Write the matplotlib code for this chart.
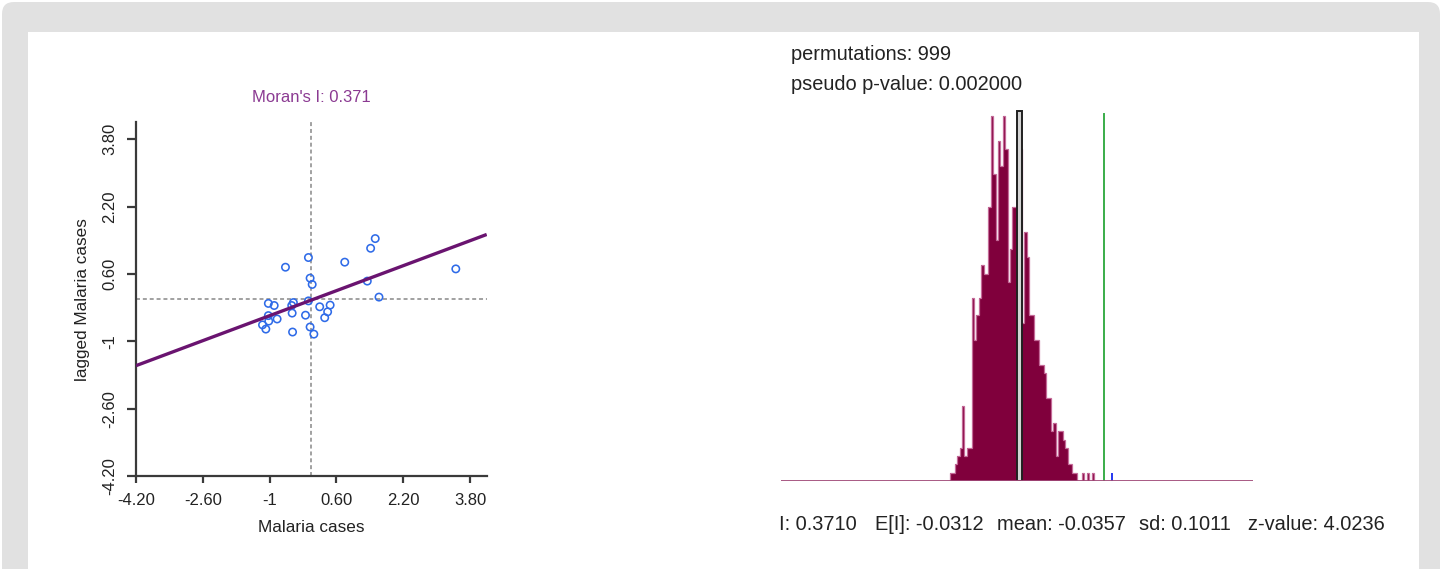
import numpy as np
import matplotlib
matplotlib.use("Agg")
import matplotlib.pyplot as plt
from matplotlib.patches import FancyBboxPatch, Rectangle
from matplotlib.transforms import IdentityTransform

plt.rcParams["font.family"] = ["Liberation Sans", "DejaVu Sans"]

# ---- Moran scatter data (standardised values) ----
malaria_cases = [-0.62, -0.07, -0.03, 0.02, 0.80, 1.42, 1.53, 1.34, 1.62, 3.46,
                 -1.03, -0.89, -0.43, -0.47, -0.46, -0.07, -0.14, 0.20, 0.45, 0.39,
                 0.32, -0.03, 0.06, -0.45, -1.03, -0.82, -1.17, -1.09, -1.02]
lagged_cases = [0.76, 0.99, 0.50, 0.35, 0.88, 1.21, 1.44, 0.43, 0.05, 0.72,
                -0.10, -0.15, -0.08, -0.15, -0.33, -0.04, -0.38, -0.18, -0.14, -0.30,
                -0.44, -0.66, -0.83, -0.78, -0.39, -0.47, -0.61, -0.71, -0.52]
morans_i = 0.371
axis_ticks = [-4.2, -2.6, -1, 0.6, 2.2, 3.8]
axis_tick_labels = ["-4.20", "-2.60", "-1", "0.60", "2.20", "3.80"]

# ---- permutation reference distribution ----
permutations = 999
pseudo_p = 0.002
observed_i = 0.3710
expected_i = -0.0312
perm_mean = -0.0357
perm_sd = 0.1011
z_value = 4.0236
bin_start = -0.3617
bin_width = 0.0114
perm_counts = [1, 1, 2, 3, 4, 9, 3, 4, 4, 22,
               17, 20, 22, 26, 25, 25, 33, 44, 37, 29,
               41, 38, 44, 40, 24, 28, 33, 33, 42, 40,
               19, 30, 27, 20, 20, 17, 17, 14, 14, 13,
               10, 10, 6, 7, 3, 6, 6, 5, 4, 2,
               2, 1, 1, 0, 0, 1, 0, 1, 0, 1]
extreme_perm = 0.408

W, H = 1442, 569
fig = plt.figure(figsize=(W / 100, H / 100), dpi=100)
fig.patch.set_facecolor("white")

# framed card background
frame = FancyBboxPatch((2, -30), 1438, 597, boxstyle="round,pad=0,rounding_size=12",
                       transform=IdentityTransform(), facecolor="#e1e1e1",
                       edgecolor="none", zorder=-2)
card = Rectangle((28, -10), 1391, H - 32 + 10, transform=IdentityTransform(),
                 facecolor="white", edgecolor="none", zorder=-1)
fig.patches.extend([frame, card])


def px_axes(x0, y0, x1, y1):
    return fig.add_axes([x0 / W, 1 - y1 / H, (x1 - x0) / W, (y1 - y0) / H])


# ---------------- Moran scatter plot ----------------
ax = px_axes(136, 122.4, 486.7, 476)
ax.patch.set_visible(False)
ax.set_xlim(-4.2, 4.2)
ax.set_ylim(-4.2, 4.2)

dash = (0, (2.2, 1.6))
ax.axvline(0, color="#9a9a9a", lw=1.3, ls=dash, zorder=1)
ax.axhline(0, color="#9a9a9a", lw=1.3, ls=dash, zorder=1)

ax.scatter(malaria_cases, lagged_cases, s=28, facecolors="none",
           edgecolors="#2f6be8", linewidths=1.15, zorder=3)

xm = np.mean(malaria_cases)
ym = np.mean(lagged_cases)
xs = np.array([-4.2, 4.2])
ax.plot(xs, ym + morans_i * (xs - xm), color="#6a1470", lw=2.4, zorder=4,
        solid_capstyle="butt")

for side in ("top", "right"):
    ax.spines[side].set_visible(False)
for side in ("left", "bottom"):
    ax.spines[side].set_color("#3a3a3a")
    ax.spines[side].set_linewidth(1.6)

ax.set_xticks(axis_ticks)
ax.set_xticklabels(axis_tick_labels)
ax.set_yticks(axis_ticks)
ax.set_yticklabels(axis_tick_labels)
ax.tick_params(axis="x", length=5, width=1.6, color="#3a3a3a", pad=7,
               labelsize=12, labelcolor="#222222")
ax.tick_params(axis="y", length=6.5, width=1.6, color="#3a3a3a", pad=7,
               labelsize=12, labelcolor="#222222")
for lbl in ax.get_yticklabels():
    lbl.set_rotation(90)
    lbl.set_va("center")
    lbl.set_ha("right")

ax.set_xlabel("Malaria cases", fontsize=12.3, color="#222222")
ax.xaxis.set_label_coords(0.5, -0.146)
ax.xaxis.label.set_va("center")
ax.set_ylabel("lagged Malaria cases", fontsize=12.3, color="#222222")
ax.yaxis.set_label_coords(-0.152, 0.5)
ax.yaxis.label.set_va("center")

ax.text(0.5, 1 + (122.4 - 98) / 353.6, f"Moran's I: {morans_i:.3f}",
        transform=ax.transAxes, ha="center", va="center", fontsize=12,
        color="#8b3a92")

# ---------------- permutation histogram ----------------
hx = px_axes(781, 100, 1253, 481)
hx.set_axis_off()
count_px = 8.3
hx.set_xlim(-1.164, 1.077)
hx.set_ylim(0, 381 / count_px)

edges = bin_start + bin_width * np.arange(len(perm_counts) + 1)
hx.stairs(perm_counts, edges, fill=True, color="#80003c", zorder=2)
hx.stairs(perm_counts, edges, color="#c46a98", lw=0.9, zorder=3)

# bin holding the expected value
box_top = max(perm_counts) + 0.6
hx.add_patch(Rectangle((expected_i - bin_width, 0), 2 * bin_width, box_top,
                       facecolor="#d4d4d4", edgecolor="#202020", lw=1.4, zorder=4))

# observed statistic and the single more extreme permutation
hx.plot([observed_i, observed_i], [0, max(perm_counts) + 0.2], color="#3aad4a",
        lw=1.4, zorder=4)
hx.add_patch(Rectangle((extreme_perm - 0.004, 0), 0.008, 1, facecolor="#2a3cf0",
                       edgecolor="none", zorder=4))

hx.axhline(0, color="#a04a78", lw=2.0, zorder=5)

txt = dict(fontsize=14.4, color="#222222", va="center", ha="left")
fig.text(791 / W, 1 - 55 / H, f"permutations: {permutations}", **txt)
fig.text(791 / W, 1 - 84 / H, f"pseudo p-value: {pseudo_p:.6f}", **txt)

stats = [(779, f"I: {observed_i:.4f}"),
         (875, f"E[I]: {expected_i:.4f}"),
         (997, f"mean: {perm_mean:.4f}"),
         (1139, f"sd: {perm_sd:.4f}"),
         (1248, f"z-value: {z_value:.4f}")]
for x, s in stats:
    fig.text(x / W, 1 - 524 / H, s, **txt)

fig.savefig("out.png", dpi=100, facecolor=fig.get_facecolor())
